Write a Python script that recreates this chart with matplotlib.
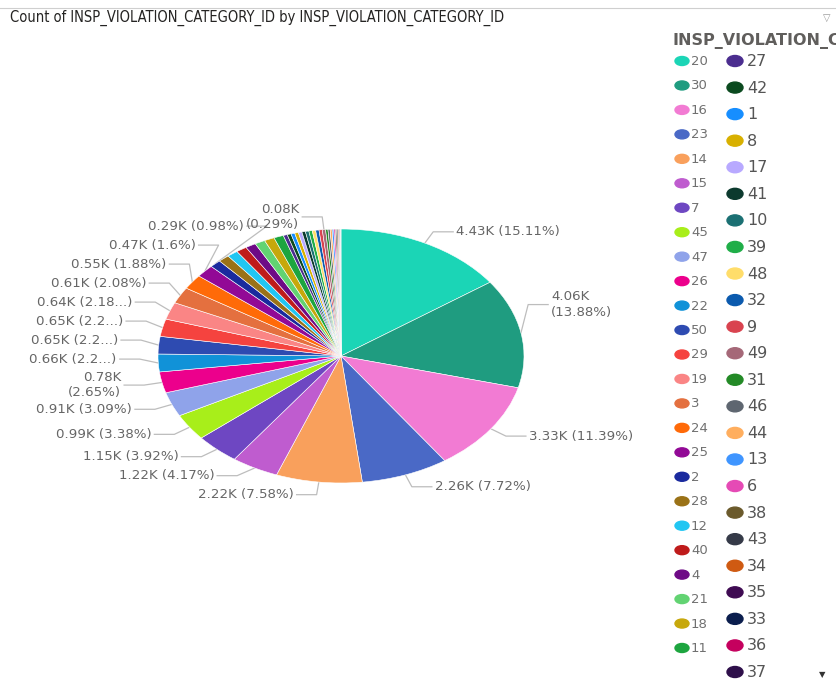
import numpy as np
import matplotlib.pyplot as plt
from matplotlib.patches import Ellipse

# --- data (legend order = slice order, clockwise from 12 o'clock) ---
categories = ['20', '30', '16', '23', '14', '15', '7', '45', '47', '26',
              '22', '50', '29', '19', '3', '24', '25', '2', '28', '12',
              '40', '4', '21', '18', '11', '27', '42', '1', '8', '17',
              '41', '10', '39', '48', '32', '9', '49', '31', '46', '44',
              '13', '6', '38', '43', '34', '35', '33', '36', '37']
counts = [4430, 4060, 3330, 2260, 2220, 1220, 1150, 990, 910, 780,
          660, 650, 650, 640, 610, 550, 470, 290, 285, 280,
          275, 270, 265, 260, 250, 105, 100, 98, 95, 93,
          90, 90, 88, 87, 86, 85, 84, 60, 55, 50,
          45, 40, 35, 30, 25, 20, 15, 10, 8]
colors = ['#1BD5B6', '#1F9C80', '#F27BD3', '#4A69C6', '#F9A05C', '#BF5CCF', '#6E47C2', '#A8EE1A', '#8FA3EA', '#EC008C',
          '#1192D8', '#2E4BB1', '#F5433F', '#FA8585', '#E4703F', '#FF6A08', '#920996', '#1A2A9E', '#9A7217', '#21C6F2',
          '#BF1B1B', '#6E0A86', '#62D372', '#C7A80C', '#1DA53F', '#4B2D8F', '#0B4A1F', '#168EFF', '#D8B000', '#B8A9FF',
          '#0C3A2E', '#1B7073', '#1FAE48', '#FFDD6A', '#0B5AAE', '#D9434F', '#A56878', '#238A26', '#5E6670', '#FFAE5E',
          '#3F95FF', '#E54AB5', '#6B5A2C', '#353A48', '#CF5A12', '#3F0B52', '#0A1D4D', '#C5005E', '#2E0F4A']

# data labels shown by the visual
label_cats = ['20', '30', '16', '23', '14', '15', '7', '45', '47', '26',
              '22', '50', '29', '19', '3', '24', '25', '2', '49']
label_texts = ['4.43K (15.11%)', '4.06K\n(13.88%)', '3.33K (11.39%)', '2.26K (7.72%)',
               '2.22K (7.58%)', '1.22K (4.17%)', '1.15K (3.92%)', '0.99K (3.38%)',
               '0.91K (3.09%)', '0.78K\n(2.65%)', '0.66K (2.2...)', '0.65K (2.2...)',
               '0.65K (2.2...)', '0.64K (2.18...)', '0.61K (2.08%)', '0.55K (1.88%)',
               '0.47K (1.6%)', '0.29K (0.98%)', '0.08K\n(0.29%)']

title = 'Count of INSP_VIOLATION_CATEGORY_ID by INSP_VIOLATION_CATEGORY_ID'
legend_title = 'INSP_VIOLATION_CATEGORY_ID'

W, H = 836, 679
fig = plt.figure(figsize=(W / 100, H / 100), dpi=100)
fig.patch.set_facecolor('white')

# overlay in pixel coords (y down) for text, leaders, legend
ov = fig.add_axes([0, 0, 1, 1])
ov.set_xlim(0, W)
ov.set_ylim(H, 0)
ov.axis('off')

# pie is stretched into an ellipse like the screenshot
cx, cy, rx, ry = 341, 356, 183, 127
ax = fig.add_axes([(cx - rx) / W, (H - cy - ry) / H, 2 * rx / W, 2 * ry / H], zorder=2)
wedges, _ = ax.pie(counts, colors=colors, startangle=90, counterclock=False,
                   wedgeprops=dict(linewidth=0.4, edgecolor='white'))
ax.set_xlim(-1, 1)
ax.set_ylim(-1, 1)
ax.set_aspect('auto')
ax.axis('off')

lab_font = dict(family='DejaVu Sans', fontsize=9.6, color='#666666')
lead_col = '#BDBDBD'
R_EL = 1.1


def to_px(ang, r):
    return cx + rx * r * np.cos(ang), cy - ry * r * np.sin(ang)


items = []
for cat, txt in zip(label_cats, label_texts):
    w = wedges[categories.index(cat)]
    m = np.deg2rad((w.theta1 + w.theta2) / 2)
    ex, ey = to_px(m, 1.0)
    bx, by = to_px(m, R_EL)
    items.append(dict(cat=cat, txt=txt, ex=ex, ey=ey, bx=bx, by=by,
                      side=1 if np.cos(m) > 0 else -1))

# simple de-overlap on the left side, pushing labels upward
left = sorted([it for it in items if it['side'] < 0 and it['cat'] != '49'],
              key=lambda d: -d['by'])
for a, b in zip(left, left[1:]):
    gap = 19 if '\n' not in a['txt'] else 26
    if b['by'] > a['by'] - gap:
        b['by'] = a['by'] - gap
        dy = (cy - b['by']) / (ry * R_EL)
        if abs(dy) < 1:
            b['bx'] = cx - rx * R_EL * np.sqrt(1 - dy ** 2)

# the wrapped 13.88% label sits higher in the original
for it in items:
    if it['cat'] == '30':
        it['by'] -= 26
        dy = (cy - it['by']) / (ry * R_EL)
        it['bx'] = cx + rx * R_EL * np.sqrt(1 - dy ** 2)

for it in items:
    s = it['side']
    hx = it['bx'] + s * 20
    ov.plot([it['ex'], it['bx'], hx], [it['ey'], it['by'], it['by']],
            color=lead_col, lw=0.9, zorder=3)
    ov.text(hx + s * 3, it['by'], it['txt'], ha='left' if s > 0 else 'right',
            va='center', linespacing=1.25, **lab_font)

# title and frame bits
ov.plot([0, W], [8, 8], color='#CFCFCF', lw=0.8)
ov.text(10, 18, title, ha='left', va='center', fontsize=10.5, color='#252423',
        family='DejaVu Sans', fontstretch='condensed')
ov.text(827, 18, '\u25BD', ha='center', va='center', fontsize=7, color='#999999',
        family='DejaVu Sans')

# legend: two columns
ov.text(672, 41, legend_title, ha='left', va='center', fontsize=11.5,
        fontweight='bold', color='#605E5C', family='DejaVu Sans')
n1 = 25
col1_y = np.linspace(61, 648, n1)
col2_y = np.linspace(61, 672, len(categories) - n1)
for i, (cat, col) in enumerate(zip(categories, colors)):
    if i < n1:
        x0, y0, mw, mh, fs, tc, tx = 682, col1_y[i], 14, 9, 9.5, '#707070', 691
    else:
        x0, y0, mw, mh, fs, tc, tx = 735, col2_y[i - n1], 16, 11, 11.5, '#555555', 747
    ov.add_patch(Ellipse((x0, y0), mw, mh, color=col))
    ov.text(tx, y0 + 0.5, cat, ha='left', va='center', fontsize=fs,
            color=tc, family='DejaVu Sans')
ov.text(822, 675, '\u25BC', ha='center', va='center', fontsize=6, color='#333333',
        family='DejaVu Sans')

fig.savefig('out.png', dpi=100)
